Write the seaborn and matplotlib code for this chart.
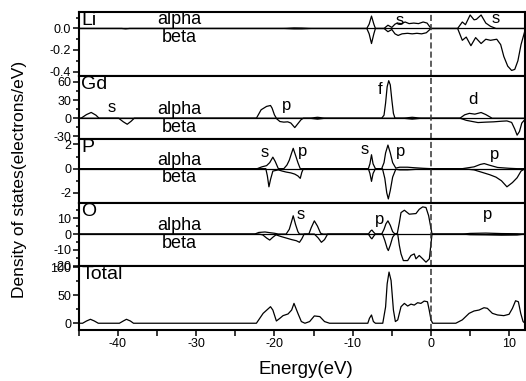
import numpy as np
import pandas as pd
import seaborn as sns
import matplotlib
matplotlib.use('Agg')
import matplotlib.pyplot as plt
from matplotlib.ticker import MultipleLocator

# ---- data (energy in eV, DOS in electrons/eV) ----
li_alpha_e = [-45, -19, -17.5, -16.5, -15, -8.2, -7.9, -7.6, -7.3, -7.1, -6.0, -5.5, -5.0, -4.6, -4.3,
              -3.8, -3.3, -2.8, -2.2, -1.6, -1.0, -0.5, 0, 3.4, 4.0, 4.4, 5.0, 5.5, 5.8, 6.4, 7.0,
              7.6, 8.3, 12]
li_alpha_v = [0, 0, 0.005, 0.004, 0, 0, 0.04, 0.115, 0.04, 0, 0, 0.03, 0.01, 0.04, 0.05,
              0.045, 0.06, 0.045, 0.05, 0.045, 0.06, 0.05, 0, 0, 0.06, 0.035, 0.125, 0.08, 0.085, 0.125, 0.05,
              0.02, 0, 0]
li_beta_e = [-45, -39.5, -39, -38.5, -19, -17.5, -16.5, -15, -8.2, -7.9, -7.6, -7.3, -7.1, -6.0, -5.5,
             -5.0, -4.6, -4.2, -3.7, -3.0, -2.4, -1.8, -1.2, -0.6, 0, 3.4, 4.0, 4.5, 5.1, 5.7, 6.4,
             7.0, 7.6, 8.4, 8.9, 9.3, 9.8, 10.3, 10.7, 11.1, 11.5, 12]
li_beta_v = [0, 0, -0.004, 0, 0, -0.004, -0.004, 0, 0, -0.05, -0.14, -0.05, 0, 0, -0.03,
             -0.01, -0.05, -0.065, -0.05, -0.045, -0.05, -0.045, -0.05, -0.04, 0, 0, -0.11, -0.08, -0.16, -0.085, -0.14,
             -0.1, -0.11, -0.1, -0.15, -0.26, -0.35, -0.39, -0.38, -0.3, -0.15, -0.02]

gd_alpha_e = [-45, -44.7, -44.0, -43.4, -42.8, -42.4, -22.3, -21.7, -21.0, -20.5, -20.3, -20.0, -19.75,
              -15.5, -14.5, -13.5, -6.3, -6.0, -5.8, -5.6, -5.4, -5.2, -5.0, -4.8, -4.6, -3.6, -2.4, -1.2,
              3.7, 4.3, 4.9, 5.6, 6.4, 7.0, 7.8, 12]
gd_alpha_v = [0, 0, 6, 9.5, 5, 0, 0, 13.9, 19.5, 21, 16.7, 5.6, 0,
              0, 1.5, 0, 0, 5, 25, 52, 62, 55, 30, 8, 0, 0, 1.5, 0,
              0, 5.6, 8, 6.7, 9.4, 6, 0, 0]
gd_beta_e = [-45, -39.9, -39.3, -38.8, -38.3, -37.9, -19.8, -19.3, -18.8, -18.3, -17.9, -17.4, -17.0,
             -16.6, -16.3, -15.5, -14.5, -13.5, -3.6, -2.4, -1.2, 3.7, 4.5, 5.3, 6.0, 7.0, 8.0, 9.0,
             9.7, 10.3, 10.7, 11.0, 11.3, 11.6, 12]
gd_beta_v = [0, 0, -6, -10, -5, 0, 0, -5.5, -6.5, -6, -8, -15.5, -9,
             -2.5, 0, 0, -1.5, 0, 0, -1.5, 0, 0, -3.5, -5.5, -7.2, -6.5, -6, -5,
             -4.5, -7, -18, -28, -22, -8, -2]

p_alpha_e = [-45, -22.2, -21.6, -21.0, -20.6, -20.2, -19.9, -19.5, -18.8, -18.4, -18.1, -17.8, -17.6,
             -17.3, -17.0, -16.7, -8.0, -7.8, -7.6, -7.4, -7.1, -6.3, -6.0, -5.8, -5.5, -5.2, -4.9,
             -4.5, -4.0, -3.0, -2.2, -1.0, 0, 4.0, 5.5, 6.3, 6.8, 7.4, 8.5, 10, 11, 12]
p_alpha_v = [0, 0, 0.15, 0.25, 0.5, 0.95, 0.6, 0, 0, 0.3, 0.7, 1.3, 1.68,
             1.1, 0.5, 0, 0, 0.4, 1.15, 0.4, 0, 0, 0.5, 1.3, 1.95, 1.3, 0.5,
             0.05, 0.12, 0.12, 0.08, 0.03, 0, 0, 0.15, 0.35, 0.42, 0.3, 0.1, 0.03, 0, 0]
p_beta_e = [-45, -21.1, -20.9, -20.7, -20.5, -20.2, -19.5, -19.0, -18.5, -17.9, -17.4, -17.0, -16.7,
            -16.5, -16.3, -8.0, -7.8, -7.6, -7.4, -7.1, -6.2, -5.9, -5.65, -5.45, -5.2, -4.9, -4.5,
            -4.0, -3.0, -2.0, -1.0, 0, 4.0, 5.5, 6.5, 7.5, 8.3, 9.0, 9.7, 10.4, 11.0, 11.5, 12]
p_beta_v = [0, 0, -0.6, -1.5, -0.9, -0.2, -0.1, -0.2, -0.28, -0.35, -0.45, -0.6, -0.8,
            -0.3, 0, 0, -0.4, -1.05, -0.4, 0, 0, -0.8, -2.0, -2.5, -1.8, -0.7, -0.05,
            -0.1, -0.1, -0.06, -0.03, 0, 0, -0.1, -0.3, -0.5, -0.7, -1.0, -1.5, -1.15, -0.75, -0.2, 0]

o_alpha_e = [-45, -22.5, -22.0, -21.2, -20.5, -20.0, -19.5, -18.5, -18.1, -17.8, -17.6, -17.3, -17.0,
             -16.8, -15.6, -15.3, -14.9, -14.5, -14.1, -13.8, -8.0, -7.7, -7.55, -7.3, -7.1, -6.3,
             -6.0, -5.75, -5.5, -5.2, -4.9, -4.6, -4.3, -4.05, -3.83, -3.4, -2.77, -1.92, -1.5,
             -1.06, -0.64, -0.3, 0.13, 4.0, 5, 7, 9, 11, 12]
o_alpha_v = [0, 0, 1.0, 1.3, 0.8, 0.5, 0, 0, 3, 8, 11.5, 6, 1.5,
             0, 0, 4, 8.3, 5, 0.5, 0, 0, 2, 2.5, 1, 0, 0,
             3, 6.5, 8.3, 5.5, 1.5, 0, 0.5, 7, 13.5, 15, 12.5, 12.9, 15.6,
             17.1, 16.7, 11.5, 0, 0, 0.4, 0.6, 0.3, 0.2, 0]
o_beta_e = [-45, -22.0, -21.5, -21.0, -20.6, -20.2, -19.8, -19.2, -18.5, -17.8, -17.2, -16.8, -16.5,
            -16.2, -14.9, -14.4, -14.0, -13.6, -13.2, -8.0, -7.7, -7.55, -7.3, -7.1, -6.2, -5.9,
            -5.6, -5.45, -5.2, -4.9, -4.6, -4.25, -4.05, -3.83, -3.53, -2.98, -2.56, -2.14, -1.92,
            -1.5, -1.06, -0.64, -0.21, 0.13, 4.0, 5, 7, 9, 11, 12]
o_beta_v = [0, 0, -0.5, -2.5, -3.8, -2, -0.5, -1.5, -2.5, -3.5, -4.2, -5.2, -3,
            0, 0, -2.5, -5.2, -3.5, 0, 0, -2.3, -3.0, -1.2, 0, 0, -4,
            -9, -10.4, -7, -2, 0, 0, -7, -12.5, -16.7, -16.7, -13.5, -12.5, -15.6,
            -13.5, -15.6, -17.7, -15.6, 0, 0, -0.4, -0.5, -0.7, -0.6, 0]

tot_e = [-45, -44.5, -44.0, -43.5, -43.0, -42.5, -39.8, -39.3, -38.9, -38.4, -38.0, -22.3, -21.44,
         -20.5, -20.2, -19.75, -19.3, -18.9, -18.26, -17.8, -17.5, -17.0, -16.56, -16.1, -15.5,
         -14.9, -14.2, -13.6, -12.96, -8.07, -7.86, -7.6, -7.36, -7.1, -6.16, -5.8, -5.6, -5.36,
         -5.1, -4.8, -4.55, -4.25, -3.83, -3.4, -2.98, -2.56, -2.14, -1.71, -1.29, -0.87, -0.45,
         -0.23, 0, 0.21, 3.17, 4.0, 4.87, 5.5, 6.14, 6.77, 7.2, 7.84, 8.5, 9.3, 9.97, 10.4, 10.8,
         11.16, 11.46, 11.76, 12.0]
tot_v = [0, 0, 4, 7, 4, 0, 0, 4, 7, 4, 0, 0, 17.6,
         29.4, 23.5, 4, 8.8, 13.5, 16.5, 23.5, 35.3, 17.6, 3, 0, 3,
         13, 11.8, 3, 0, 0, 8.8, 14.7, 3, 0, 0, 29, 70, 91,
         76, 23.5, 3, 5.9, 29.4, 35.3, 30.6, 34, 32.3, 36.5, 35.3, 39.4, 38.2,
         23.5, 6, 0, 0, 6, 17.6, 21.8, 23.5, 27.6, 26.5, 17.6, 14.7, 13.5, 15.9, 26.5, 40,
         38.2, 17.6, 3, 0]

panel_names = ['Li', 'Gd', 'P', 'O', 'Total']
ylims = [(-0.44, 0.15), (-35, 70), (-2.83, 2.42), (-20.4, 19.6), (-12, 101)]
ymajor = [0.2, 30, 2, 10, 50]
yminor = [0.1, 15, 1, 5, 25]

curves = {
    'Li': [(li_alpha_e, li_alpha_v), (li_beta_e, li_beta_v)],
    'Gd': [(gd_alpha_e, gd_alpha_v), (gd_beta_e, gd_beta_v)],
    'P': [(p_alpha_e, p_alpha_v), (p_beta_e, p_beta_v)],
    'O': [(o_alpha_e, o_alpha_v), (o_beta_e, o_beta_v)],
    'Total': [(tot_e, tot_v)],
}

# orbital labels (energy, value, text)
orbital_labels = {
    'Li': [(-4.0, 0.07, 's'), (8.3, 0.09, 's')],
    'Gd': [(-40.8, 17, 's'), (-18.5, 21, 'p'), (-6.5, 48, 'f'), (5.3, 31, 'd')],
    'P': [(-21.2, 1.35, 's'), (-16.4, 1.45, 'p'), (-8.5, 1.6, 's'), (-3.95, 1.4, 'p'), (8.1, 1.15, 'p')],
    'O': [(-16.6, 12, 's'), (-6.6, 9, 'p'), (7.2, 12, 'p')],
}

sns.set_theme(style='ticks')
plt.rcParams['font.family'] = ['Liberation Sans', 'DejaVu Sans']
plt.rcParams['axes.unicode_minus'] = False
plt.rcParams['text.color'] = 'black'

fig = plt.figure(figsize=(5.26, 3.81), dpi=100)
gs = fig.add_gridspec(5, 1, left=0.1496, right=0.998, top=0.9677, bottom=0.1339, hspace=0)
axes = [fig.add_subplot(gs[i]) for i in range(5)]

for i, (ax, name) in enumerate(zip(axes, panel_names)):
    for e, v in curves[name]:
        df = pd.DataFrame({'E': e, 'DOS': v})
        sns.lineplot(data=df, x='E', y='DOS', ax=ax, color='black', lw=0.9, estimator=None)
    if name != 'Total':
        ax.axhline(0, color='black', lw=0.9)
        ax.annotate('alpha', xy=(-32.2, 0), xytext=(0, 0), textcoords='offset points',
                    ha='center', va='bottom', fontsize=13)
        ax.annotate('beta', xy=(-32.2, 0), xytext=(0, -0.5), textcoords='offset points',
                    ha='center', va='top', fontsize=13)
        for x, y, t in orbital_labels[name]:
            ax.text(x, y, t, ha='center', va='center', fontsize=12)
    ax.axvline(0, color='#333333', lw=1.1, ls=(0, (4, 2)))
    ax.text(0.006, 1.0, name, transform=ax.transAxes, ha='left', va='top', fontsize=14)

    ax.set_xlim(-45, 12)
    ax.set_ylim(*ylims[i])
    ax.xaxis.set_major_locator(MultipleLocator(10))
    ax.xaxis.set_minor_locator(MultipleLocator(5))
    ax.yaxis.set_major_locator(MultipleLocator(ymajor[i]))
    ax.yaxis.set_minor_locator(MultipleLocator(yminor[i]))
    if name == 'Li':
        ax.yaxis.set_major_formatter(matplotlib.ticker.FormatStrFormatter('%.1f'))
    ax.tick_params(axis='both', which='both', direction='out', width=1.1, labelsize=9,
                   colors='black', pad=1.5)
    ax.tick_params(axis='x', which='both', length=4)
    ax.tick_params(axis='y', which='major', length=4)
    ax.tick_params(axis='y', which='minor', length=2)
    ax.set_xlabel('')
    ax.set_ylabel('')
    for sp in ax.spines.values():
        sp.set_visible(True)
        sp.set_linewidth(1.5)
        sp.set_color('black')
    if i < 4:
        ax.tick_params(axis='x', labelbottom=False)

fig.text(0.038, 0.53, 'Density of states(electrons/eV)', rotation=90, ha='center', va='center', fontsize=12.5)
fig.text(0.582, 0.03, 'Energy(eV)', ha='center', va='center', fontsize=13.5)

fig.savefig('out.png', dpi=100)
